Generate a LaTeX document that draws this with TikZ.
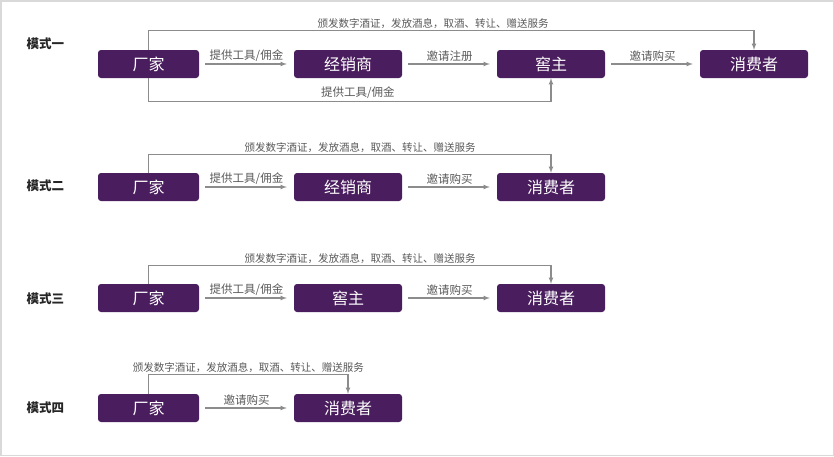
\documentclass[tikz,border=0pt]{standalone}
\usepackage{fontspec}
\setmainfont{Noto Sans CJK SC}
\usetikzlibrary{arrows,positioning}
\definecolor{mpurple}{HTML}{4A1D5E}
\definecolor{mgray}{HTML}{8C8C8C}
\definecolor{mtext}{HTML}{595959}
\tikzstyle{box}=[rectangle, rounded corners=3pt, fill=mpurple, text=white, minimum height=28pt, minimum width=108pt, inner sep=0pt, font=\fontsize{16}{16}\selectfont]
\tikzstyle{box1}=[box, minimum width=101pt]
\tikzstyle{l1}=[line width=1.1pt, draw=mgray, -latex]
\tikzstyle{gap}=[l1, shorten <=6pt, shorten >=7pt]
\tikzstyle{lab}=[text=mtext, font=\fontsize{11.5}{12}\selectfont, above, inner sep=2pt]
\tikzstyle{lab1}=[lab, font=\fontsize{10.5}{11}\selectfont]
\tikzstyle{mode}=[text=black!85, font=\fontsize{12.5}{13}\selectfont\bfseries, anchor=west]

\begin{document}
\begin{tikzpicture}[x=1pt, y=-1pt]
    \useasboundingbox (0,0) rectangle (834,456);
    \draw[black!15, line width=1.5pt] (0.75,0.75) rectangle (833.25,455.25);

    % mode 1
    \node (m1) [mode] at (23,44) {模式一};
    \node (f1) [box1] at (148.5,64) {厂家};
    \node (d1) [box] at (348,64) {经销商};
    \node (j1) [box] at (551,64) {窖主};
    \node (c1) [box] at (754,64) {消费者};
    \draw[gap] (f1) -- node[lab] (a1) {提供工具/佣金} (d1);
    \draw[gap] (d1) -- node[lab] (a2) {邀请注册} (j1);
    \draw[gap] (j1) -- node[lab] (a3) {邀请购买} (c1);
    \draw[l1] (f1.north) -- ++(0,-19) -| node[lab1, pos=0.235] (t1) {颁发数字酒证，发放酒息，取酒、转让、赠送服务} (c1.north);
    \draw[l1] (f1.south) -- ++(0,23) -| node[lab, pos=0.26] (b1) {提供工具/佣金} (j1.south);

    % mode 2
    \node (m2) [mode] at (23,186) {模式二};
    \node (f2) [box1] at (148.5,187) {厂家};
    \node (d2) [box] at (348,187) {经销商};
    \node (c2) [box] at (551,187) {消费者};
    \draw[gap] (f2) -- node[lab] (a4) {提供工具/佣金} (d2);
    \draw[gap] (d2) -- node[lab] (a5) {邀请购买} (c2);
    \draw[l1] (f2.north) -- ++(0,-18) -| node[lab1, pos=0.263] (t2) {颁发数字酒证，发放酒息，取酒、转让、赠送服务} (c2.north);

    % mode 3
    \node (m3) [mode] at (23,299) {模式三};
    \node (f3) [box1] at (148.5,298) {厂家};
    \node (j3) [box] at (348,298) {窖主};
    \node (c3) [box] at (551,298) {消费者};
    \draw[gap] (f3) -- node[lab] (a6) {提供工具/佣金} (j3);
    \draw[gap] (j3) -- node[lab] (a7) {邀请购买} (c3);
    \draw[l1] (f3.north) -- ++(0,-18) -| node[lab1, pos=0.263] (t3) {颁发数字酒证，发放酒息，取酒、转让、赠送服务} (c3.north);

    % mode 4
    \node (m4) [mode] at (23,408) {模式四};
    \node (f4) [box1] at (148.5,408) {厂家};
    \node (c4) [box] at (348,408) {消费者};
    \draw[gap] (f4) -- node[lab] (a8) {邀请购买} (c4);
    \draw[l1] (f4.north) -- ++(0,-19) -| node[lab1, pos=0.25] (t4) {颁发数字酒证，发放酒息，取酒、转让、赠送服务} (c4.north);

\end{tikzpicture}
\end{document}
